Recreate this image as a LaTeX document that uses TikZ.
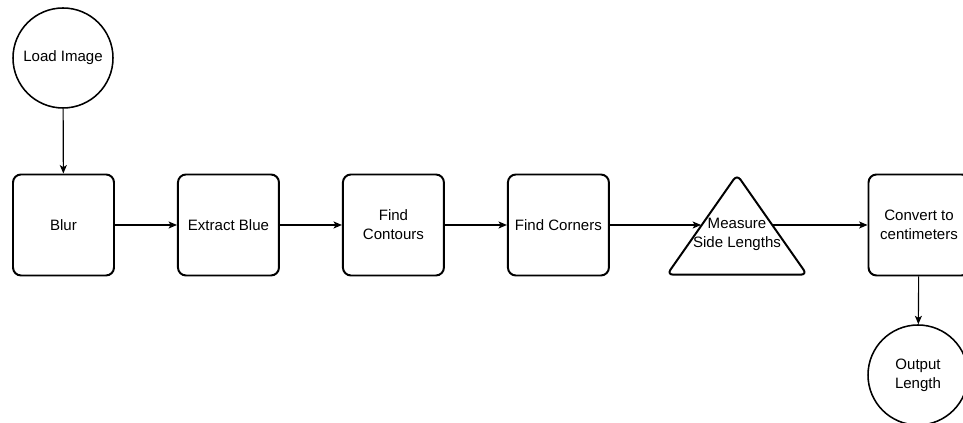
\documentclass[tikz,border=0pt]{standalone}
\usepackage{fontspec}
\setmainfont{Liberation Sans}
\usetikzlibrary{shapes.geometric, arrows.meta, positioning}

\tikzset{
  stepbox/.style={draw, line width=1.4pt, rounded corners=0.2cm,
    minimum width=2.525cm, minimum height=2.525cm, align=center,
    font=\fontsize{10.7}{13.5}\selectfont},
  endpoint/.style={draw, circle, line width=1.1pt, minimum size=2.5cm,
    inner sep=0pt, align=center, font=\fontsize{10.7}{13.5}\selectfont},
  decision/.style={draw, isosceles triangle, shape border rotate=90,
    isosceles triangle stretches, line width=1.4pt, rounded corners=0.15cm,
    minimum width=3.5cm, minimum height=2.5cm, inner sep=0pt},
  flow/.style={->, line width=0.8pt, >={Stealth[length=6pt, width=5pt, inset=1.5pt]}}
}

\begin{document}
\begin{tikzpicture}

\useasboundingbox (0,0) rectangle (24.075,10.575);

% start
\node[endpoint] (load) at (1.575,9.125) {Load Image};

% processing chain
\node[stepbox] (blur) at (1.5875,4.95) {Blur};
\node[stepbox, right=1.55cm of blur] (extract) {Extract Blue};
\node[stepbox, right=1.55cm of extract] (contours) {Find\\Contours};
\node[stepbox, right=1.55cm of contours] (corners) {Find Corners};

% triangle with the measuring step
\node[decision] (measure) at (18.425,4.62) {};
\node[align=center, font=\fontsize{10.7}{13.5}\selectfont] (measuretxt)
  at (18.425,4.72) {Measure\\Side Lengths};

\node[stepbox] (convert) at (22.975,4.95) {Convert to\\centimeters};

% result
\node[endpoint] (output) at (22.95,1.2) {Output\\Length};

% connectors
\draw[flow] (load) -- (blur);
\draw[flow] (blur) -- (extract);
\draw[flow] (extract) -- (contours);
\draw[flow] (contours) -- (corners);
\draw[flow] (corners) -- (corners -| measure.left side);
\draw[flow] (measure.right side |- convert) -- (convert);
\draw[flow] (convert) -- (output);

\end{tikzpicture}
\end{document}
